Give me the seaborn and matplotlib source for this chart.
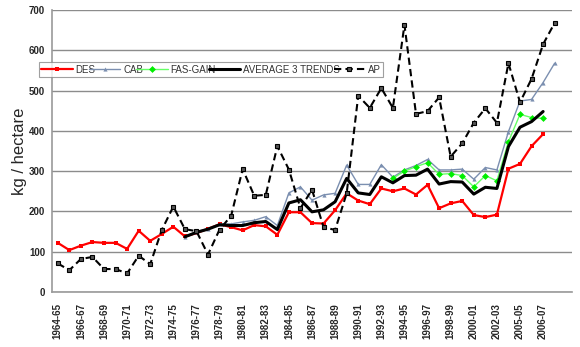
import numpy as np
import pandas as pd
import matplotlib
matplotlib.use("Agg")
import matplotlib.pyplot as plt
import seaborn as sns

sns.set_theme(style="white")
plt.rcParams['font.family'] = ['Liberation Sans', 'DejaVu Sans']

tick_labels = ["1964-65", "1966-67", "1968-69", "1970-71", "1972-73", "1974-75",
               "1976-77", "1978-79", "1980-81", "1982-83", "1984-85", "1986-87",
               "1988-89", "1990-91", "1992-93", "1994-95", "1996-97", "1998-99",
               "2000-01", "2002-03", "2005-05", "2006-07"]

des = [122, 104, 115, 124, 122, 122, 107, 152, 127, 144,
       162, 138, 146, 157, 168, 161, 153, 166, 163, 142,
       198, 198, 171, 170, 203, 245, 227, 218, 257, 250,
       257, 242, 266, 208, 220, 226, 191, 186, 192, 306,
       318, 362, 392]
cab = [137, 150, 157, 168, 169, 174, 178, 187, 165, 246,
       261, 228, 241, 245, 315, 267, 267, 316, 285, 303,
       314, 329, 303, 303, 305, 280, 309, 303, 398, 474,
       478, 520, 568]
fas = [282, 300, 311, 321, 292, 294, 289, 261, 289, 276, 373, 441, 433, 431]
avg3 = [137, 148, 156, 167, 165, 165, 172, 175, 155, 221,
        229, 199, 204, 224, 282, 246, 242, 286, 271, 289,
        290, 305, 268, 274, 273, 243, 260, 257, 361, 409,
        423, 448]
ap = [71, 54, 82, 87, 57, 57, 46, 90, 69, 154,
      212, 156, 151, 93, 155, 189, 305, 239, 241, 362,
      304, 208, 254, 161, 154, 245, 487, 457, 506, 457,
      663, 442, 449, 483, 336, 369, 420, 456, 420, 568,
      471, 529, 615, 668]

def frame(vals, start):
    return pd.DataFrame({"x": np.arange(start, start + len(vals)), "y": vals})

fig = plt.figure(figsize=(5.8, 3.47), dpi=100)
ax = fig.add_axes([52 / 580, 1 - 292 / 347, 520 / 580, 282 / 347])

sns.lineplot(data=frame(des, 0), x="x", y="y", ax=ax, color="#ff0000", lw=1.6,
             marker="s", markersize=3, markeredgewidth=0, label="DES")
sns.lineplot(data=frame(cab, 11), x="x", y="y", ax=ax, color="#7b8fb0", lw=1.0,
             marker="^", markersize=3, markeredgewidth=0, label="CAB")
sns.lineplot(data=frame(fas, 29), x="x", y="y", ax=ax, color="#66ff66", lw=1.0,
             marker="D", markersize=3.5, markerfacecolor="#00ee00",
             markeredgewidth=0, label="FAS-GAIN")
sns.lineplot(data=frame(avg3, 11), x="x", y="y", ax=ax, color="black", lw=2.2,
             label="AVERAGE 3 TRENDS")
sns.lineplot(data=frame(ap, 0), x="x", y="y", ax=ax, color="black", lw=1.5,
             linestyle=(0, (3.5, 2)), marker="s", markersize=3.5,
             markerfacecolor="#555555", markeredgecolor="black",
             markeredgewidth=0.8, label="AP")

ax.set_xlim(-0.5, 44.5)
ax.set_ylim(0, 700)
ax.set_yticks(range(0, 701, 100))
ax.set_yticklabels([str(v) for v in range(0, 701, 100)], fontsize=7, fontweight="bold")
ax.set_xticks(range(0, 44, 2))
ax.set_xticklabels(tick_labels, rotation=90, fontsize=7, fontweight="bold")
ax.set_xticks(np.arange(-0.5, 45, 1), minor=True)
ax.tick_params(axis="x", which="major", length=0, pad=8)
ax.tick_params(axis="x", which="minor", length=3, width=0.8, color="#888888", direction="out")
ax.tick_params(axis="y", length=3, width=0.8, color="#888888", direction="out", pad=2)
ax.set_xlabel("")
ax.set_ylabel("kg / hectare", fontsize=12)
ax.yaxis.set_label_coords(-0.048, 0.5)

ax.grid(axis="y", color="#8c8c8c", lw=1.0)
ax.set_axisbelow(True)
for s in ["top", "right"]:
    ax.spines[s].set_visible(False)
for s in ["left", "bottom"]:
    ax.spines[s].set_color("#999999")
    ax.spines[s].set_linewidth(1.2)

leg = ax.legend(loc="lower left", bbox_to_anchor=(-13 / 520, (292 - 77) / 282, 344 / 520, 15 / 282),
                mode="expand", ncol=5, fontsize=7, frameon=True, fancybox=False,
                handlelength=3.2, handletextpad=0.3, columnspacing=1.0,
                borderpad=0.25, borderaxespad=0)
leg.get_frame().set_edgecolor("#888888")
leg.get_frame().set_linewidth(0.8)
for t in leg.get_texts():
    t.set_color("#333333")

fig.savefig("out.png", dpi=100)
